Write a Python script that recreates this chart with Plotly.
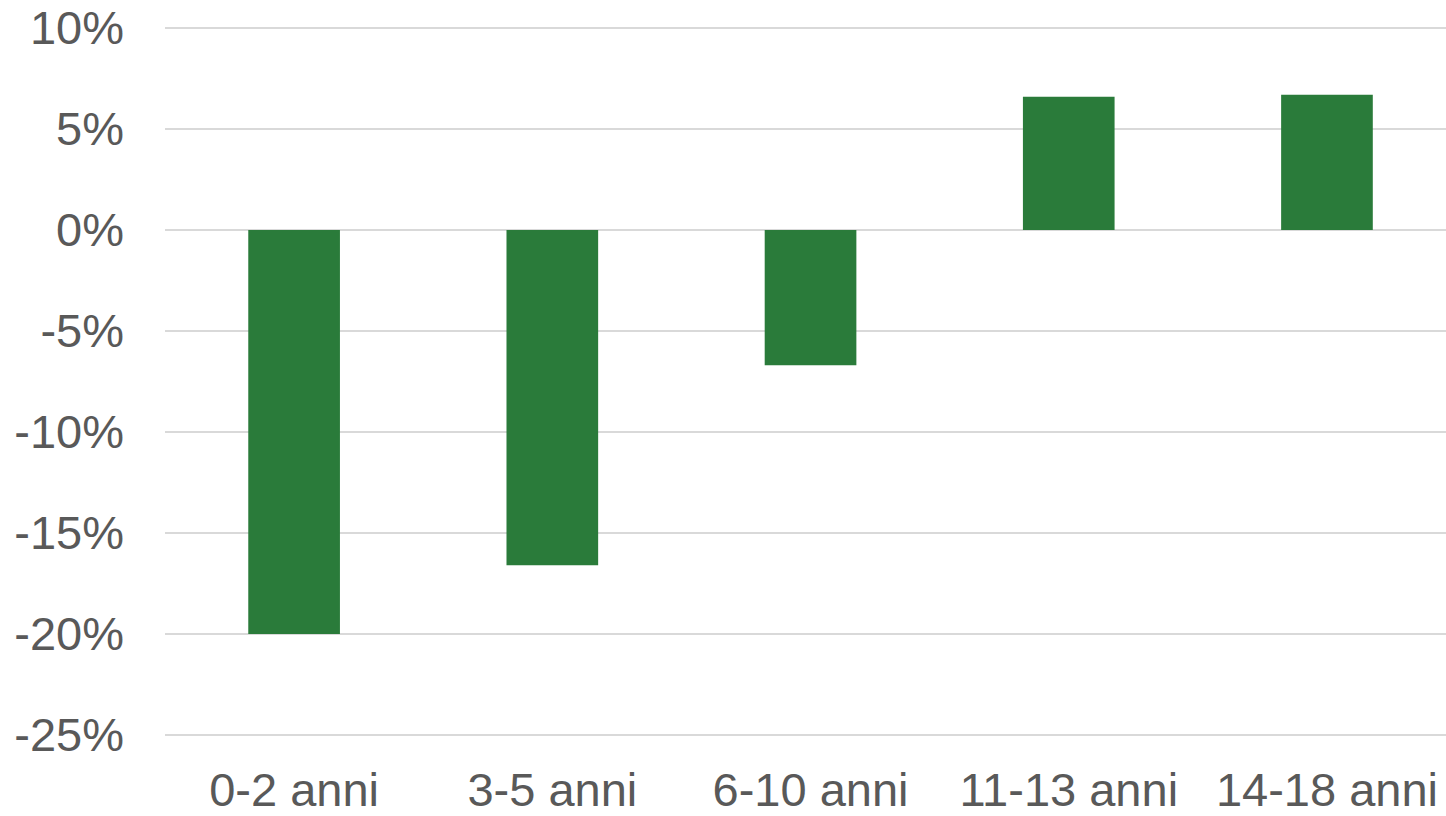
import plotly.graph_objects as go

# Age groups and percentage change per group
categories = ["0-2 anni", "3-5 anni", "6-10 anni", "11-13 anni", "14-18 anni"]
values = [-20.0, -16.6, -6.7, 6.6, 6.7]
tick_vals = [10, 5, 0, -5, -10, -15, -20, -25]
tick_text = ["10%", "5%", "0%", "-5%", "-10%", "-15%", "-20%", "-25%"]

label_color = "#595959"
grid_color = "#D9D9D9"
font_family = "Liberation Sans, Arial, sans-serif"

fig = go.Figure(
    go.Bar(
        x=categories,
        y=values,
        width=0.355,
        marker=dict(color="#2A7B3A", line=dict(width=0)),
        hoverinfo="skip",
    )
)

fig.update_layout(
    width=1446,
    height=816,
    margin=dict(l=165, r=0, t=26, b=76),
    paper_bgcolor="white",
    plot_bgcolor="white",
    showlegend=False,
    font=dict(family=font_family, size=47, color=label_color),
)

fig.update_xaxes(
    range=[-0.5, 4.461],
    showgrid=False,
    showline=False,
    zeroline=False,
    ticks="",
    ticklabelstandoff=21,
    tickfont=dict(size=47, color=label_color),
)

# small padding so the outermost gridlines (10% and -25%) stay visible
fig.update_yaxes(
    range=[-25.1, 10.1],
    tickvals=tick_vals,
    ticktext=tick_text,
    showgrid=True,
    gridcolor=grid_color,
    gridwidth=1.5,
    zeroline=True,
    zerolinecolor=grid_color,
    zerolinewidth=1.5,
    showline=False,
    ticks="",
    ticklabelstandoff=40,
    tickfont=dict(size=47, color=label_color),
)

fig.write_html("out.html")
